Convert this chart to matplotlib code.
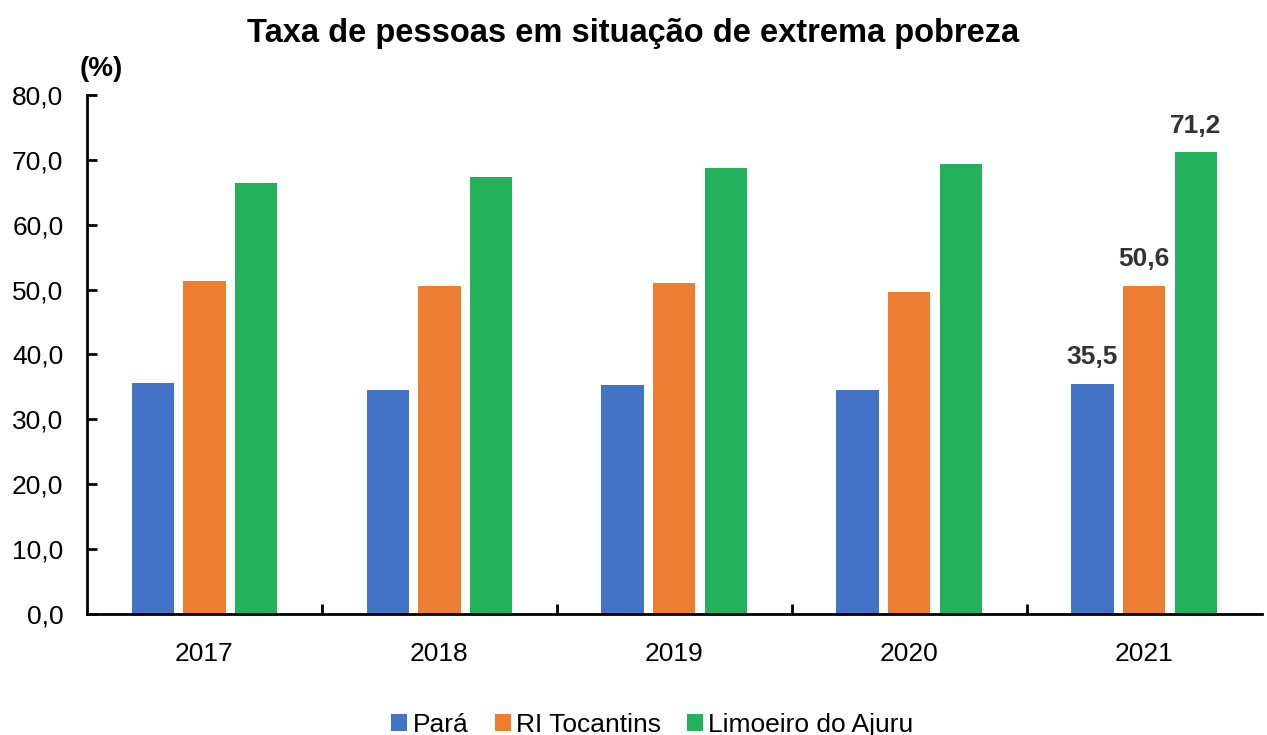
import matplotlib
matplotlib.use("Agg")
import matplotlib.pyplot as plt
import numpy as np

anos = ["2017", "2018", "2019", "2020", "2021"]
para = [35.6, 34.5, 35.3, 34.5, 35.5]
ri_tocantins = [51.3, 50.5, 51.0, 49.6, 50.6]
limoeiro = [66.4, 67.3, 68.7, 69.3, 71.2]

series = ["Pará", "RI Tocantins", "Limoeiro do Ajuru"]
cores = ["#4472C4", "#ED7D31", "#23B25B"]

plt.rcParams['font.family'] = ['Liberation Sans', 'DejaVu Sans']

fig = plt.figure(figsize=(12.67, 7.35), dpi=100)
ax = fig.add_axes([0.0687, 0.1646, 0.927, 0.7064])

x = np.arange(len(anos))
w = 0.18
off = 0.22
bars = []
for i, (vals, nome, cor) in enumerate(zip([para, ri_tocantins, limoeiro], series, cores)):
    b = ax.bar(x + (i - 1) * off, vals, w, color=cor, label=nome)
    bars.append(b)

# rótulos só em 2021
for b in bars:
    r = b[-1]
    ax.text(r.get_x() + r.get_width() / 2, r.get_height() + 2.2,
            f"{r.get_height():.1f}".replace(".", ","),
            ha="center", va="bottom", fontsize=19, fontweight="bold", color="#333333")

ax.set_xlim(-0.5, len(anos) - 0.5)
ax.set_ylim(0, 80)
ax.set_yticks(np.arange(0, 81, 10))
ax.set_yticklabels([f"{v:.1f}".replace(".", ",") for v in np.arange(0, 81, 10)])
ax.set_xticks(x)
ax.set_xticklabels(anos)
ax.set_xticks(np.arange(0.5, len(anos) - 0.5, 1), minor=True)
ax.tick_params(axis="x", which="major", length=0, labelsize=19, pad=20)
ax.tick_params(axis="x", which="minor", direction="in", length=7, width=2)
ax.tick_params(axis="y", direction="in", length=7, width=2, labelsize=19, pad=17)

for s in ["top", "right"]:
    ax.spines[s].set_visible(False)
for s in ["left", "bottom"]:
    ax.spines[s].set_linewidth(2)

ax.text(-0.006, 1.025, "(%)", transform=ax.transAxes, fontsize=20, fontweight="bold",
        ha="left", va="bottom")
fig.suptitle("Taxa de pessoas em situação de extrema pobreza", fontsize=23.5,
             fontweight="bold", y=0.975)

fig.legend(loc="lower center", ncol=3, bbox_to_anchor=(0.515, -0.035), frameon=False,
           fontsize=19, handlelength=0.6, handleheight=0.6, handletextpad=0.2,
           columnspacing=1.0)

fig.savefig("out.png", dpi=100)
